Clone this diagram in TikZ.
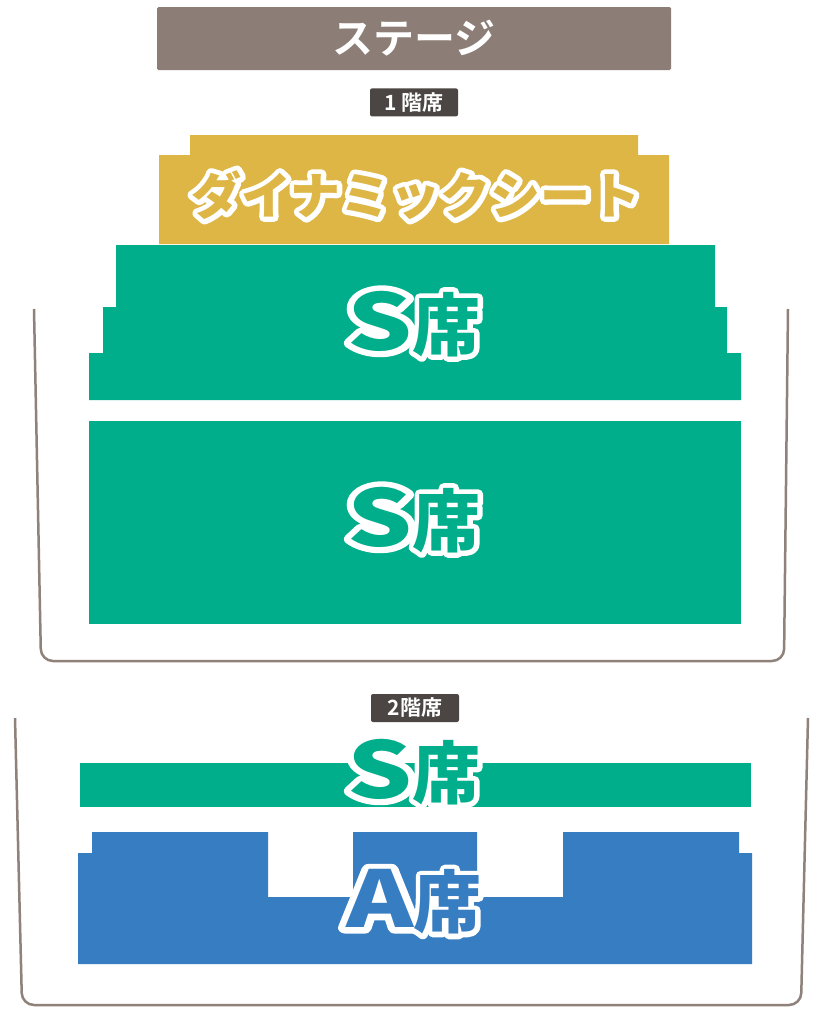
\documentclass[tikz,border=0pt]{standalone}
\usepackage{fontspec}
\newfontfamily\jp{Noto Sans CJK JP}[BoldFont={Noto Sans CJK JP Bold}]
\newfontfamily\jpheavy{Noto Sans CJK JP Black}
\usetikzlibrary{calc,positioning}
\definecolor{stagecol}{HTML}{8C7E76}
\definecolor{tagcol}{HTML}{4B4643}
\definecolor{wallcol}{HTML}{8F827B}
\definecolor{seatgold}{HTML}{DDB645}
\definecolor{seatgreen}{HTML}{00AE8C}
\definecolor{seatblue}{HTML}{377DC2}
\newcommand{\bigL}[1]{\scalebox{1.5}[1.15]{#1}}
% white outlined seat name: [options](position)(name:text)
\def\seatlabel[#1](#2)(#3:#4){%
	\node[seattext,#1,text=white] (#3halo) at (#2)
		{\special{pdf:code 2 Tr 10 w 1 j 1 J}#4\special{pdf:code 0 Tr 0.4 w 0 j 0 J}};
	\node[seattext,#1] (#3) at (#2) {#4};}

\begin{document}
\begin{tikzpicture}[x=1pt,y=-1pt,
	seattext/.style={inner sep=0pt,font={\jpheavy\fontsize{68}{68}\selectfont}},
	dynfont/.style={font={\jpheavy\fontsize{50}{50}\selectfont}},
	floortag/.style={fill=tagcol,rounded corners=2pt,text=white,inner sep=0pt,
		minimum width=88pt,minimum height=28pt,font={\jp\bfseries\fontsize{21}{21}\selectfont}},
	stagebox/.style={fill=stagecol,rounded corners=1.5pt,text=white,inner sep=0pt,
		minimum width=514pt,minimum height=63pt,font={\jp\bfseries\fontsize{41}{41}\selectfont}},
	wall/.style={draw=wallcol,line width=2.5pt,rounded corners=12pt}]
	\fill[white] (0,0) rectangle (820,1018);
	\useasboundingbox (0,0) rectangle (820,1018);
	
	%%%%%%%%%% palco e andares %%%%%%%%%%
	\node[stagebox] (stage) at (414,38.5) {ステージ};
	\node[floortag,below=18pt of stage] (floor1) {1 階席};
	\node[floortag] (floor2) at (415,708) {2階席};
	
	%%%%%%%%%% paredes %%%%%%%%%%
	\draw[wall] (34,309) -- (41,661) -- (784,661) -- (788,309);
	\draw[wall] (15,718) -- (22,1005) -- (801,1005) -- (808,718);
	
	%%%%%%%%%% 1 andar %%%%%%%%%%
	\fill[seatgold] (190,135) -- (638,135) -- (638,155) -- (669,155) -- (669,244)
		-- (159,244) -- (159,155) -- (190,155) -- cycle;
	\fill[seatgreen] (116,245) -- (715,245) -- (715,307) -- (727,307) -- (727,353)
		-- (741,353) -- (741,400) -- (89,400) -- (89,353) -- (103,353) -- (103,307)
		-- (116,307) -- cycle;
	\fill[seatgreen] (89,421) rectangle (741,624);
	
	%%%%%%%%%% 2 andar %%%%%%%%%%
	\fill[seatgreen] (80,763) rectangle (751,807);
	\fill[seatblue] (78,853) -- (92,853) -- (92,832) -- (268,832) -- (268,897)
		-- (353,897) -- (353,832) -- (477,832) -- (477,897) -- (563,897)
		-- (563,832) -- (739,832) -- (739,853) -- (752,853) -- (752,964)
		-- (78,964) -- cycle;
	
	%%%%%%%%%% rótulos %%%%%%%%%%
	\seatlabel[text=seatgold,dynfont](416,195)(dynamic:ダイナミックシート)
	\seatlabel[text=seatgreen](414,324)(sfront:\bigL{S}席)
	\seatlabel[text=seatgreen](414,520)(sback:\bigL{S}席)
	\seatlabel[text=seatgreen](414,772)(supper:\bigL{S}席)
	\seatlabel[text=seatblue](414,902)(aupper:\bigL{A}席)
\end{tikzpicture}
\end{document}
